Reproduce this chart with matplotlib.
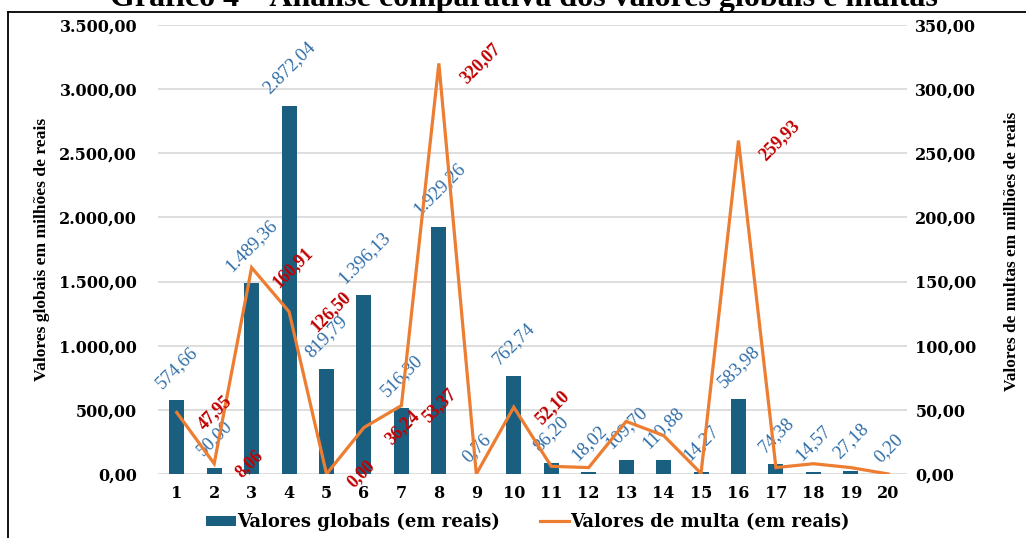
import matplotlib
matplotlib.use("Agg")
import matplotlib.pyplot as plt
from matplotlib.lines import Line2D
from matplotlib.patches import Patch

# --- data -----------------------------------------------------------------
categories = [str(i) for i in range(1, 21)]
valores_globais = [574.66, 50.00, 1489.36, 2872.04, 819.79, 1396.13, 516.30,
                   1929.26, 0.76, 762.74, 86.20, 18.02, 109.70, 110.88, 14.27,
                   583.98, 74.38, 14.57, 27.18, 0.20]
valores_multa = [47.95, 8.06, 160.91, 126.50, 0.00, 36.24, 53.37, 320.07, 0.0,
                 52.10, 6.0, 5.0, 41.0, 30.0, 0.5, 259.93, 5.0, 8.0, 5.0, 0.0]
# which multa points carry a value label
multa_rotulada = [True, True, True, True, True, True, True, True, False,
                  True, False, False, False, False, False, True, False, False,
                  False, False]
ticks_esq = [0, 500, 1000, 1500, 2000, 2500, 3000, 3500]
ticks_dir = [0, 50, 100, 150, 200, 250, 300, 350]

titulo = "Gráfico 4 – Análise comparativa dos valores globais e multas"
label_esq = "Valores globais em milhões de reais"
label_dir = "Valores de multas em milhões de reais"
leg_barras = "Valores globais (em reais)"
leg_linha = "Valores de multa (em reais)"


def br(v):
    """Format a number the Brazilian way: 3.500,00"""
    s = f"{v:,.2f}"
    return s.replace(",", "X").replace(".", ",").replace("X", ".")


# --- style ------------------------------------------------------------------
COR_BARRA = "#1B5F80"
COR_LINHA = "#ED7D31"
COR_ROT_AZUL = "#2E6DA8"
COR_ROT_VERM = "#C00000"
COR_GRADE = "#DEDEDE"
SERIF = ["Liberation Serif", "DejaVu Serif"]
WIDE = ["DejaVu Serif"]

W, H = 1026, 538
fig = plt.figure(figsize=(W / 100, H / 100), dpi=100)
fig.patch.set_facecolor("white")

ax = fig.add_axes([158 / W, 1 - 474 / H, (907 - 158) / W, (474 - 25) / H])
ax2 = ax.twinx()

x = list(range(len(categories)))

ax.bar(x, valores_globais, width=0.4, color=COR_BARRA, zorder=2)
ax2.plot(x, valores_multa, color=COR_LINHA, lw=2.3, zorder=3,
         solid_joinstyle="miter")

ax.set_xlim(-0.5, len(categories) - 0.5)
ax.set_ylim(ticks_esq[0], ticks_esq[-1])
ax2.set_ylim(ticks_dir[0], ticks_dir[-1])

ax.set_yticks(ticks_esq)
ax.set_yticklabels([br(t) for t in ticks_esq], family=WIDE, weight="bold",
                   fontsize=11.5)
ax2.set_yticks(ticks_dir)
ax2.set_yticklabels([br(t) for t in ticks_dir], family=WIDE, weight="bold",
                    fontsize=11.5)
ax.set_xticks(x)
ax.set_xticklabels(categories, family=WIDE, weight="bold", fontsize=11.5)

ax.tick_params(axis="y", length=0, pad=15)
ax2.tick_params(axis="y", length=0, pad=6)
ax.tick_params(axis="x", length=0, pad=8)

ax.grid(axis="y", color=COR_GRADE, lw=1.4, zorder=0)
ax.set_axisbelow(True)
for a in (ax, ax2):
    for s in a.spines.values():
        s.set_visible(False)

# value labels on the bars
for xi, v in zip(x, valores_globais):
    ax.annotate(br(v), (xi, v), xytext=(0, 6), textcoords="offset points",
                ha="center", va="bottom", rotation=45, color=COR_ROT_AZUL,
                family=SERIF, fontsize=13.5, zorder=4)

# value labels on the line
for xi, v, show in zip(x, valores_multa, multa_rotulada):
    if show:
        ax2.annotate(br(v), (xi, v), xytext=(13, 0),
                     textcoords="offset points", ha="left", va="center",
                     rotation=45, color=COR_ROT_VERM, family=SERIF,
                     weight="bold", fontsize=13, zorder=5)

# axis titles
fig.text(42 / W, 1 - 249 / H, label_esq, rotation=90, ha="center",
         va="center", family=SERIF, weight="bold", fontsize=12.6)
fig.text(1012 / W, 1 - 251 / H, label_dir, rotation=90, ha="center",
         va="center", family=SERIF, weight="bold", fontsize=12.4)

# chart title
fig.text(524 / W, 1 - 6 / H, titulo, ha="center", va="baseline",
         family=SERIF, weight="bold", fontsize=23)

# outer frame (left and top edges)
fig.add_artist(Line2D([8 / W, 8 / W], [0, 1 - 12 / H], color="black",
                      lw=1.3, transform=fig.transFigure))
fig.add_artist(Line2D([8 / W, 1], [1 - 12 / H, 1 - 12 / H], color="black",
                      lw=1.3, transform=fig.transFigure))

# legend
handles = [Patch(facecolor=COR_BARRA, edgecolor="none"),
           Line2D([0], [0], color=COR_LINHA, lw=2.3)]
fig.legend(handles, [leg_barras, leg_linha], loc="center",
           bbox_to_anchor=(528 / W, 1 - 522 / H), ncol=2, frameon=False,
           prop={"family": WIDE, "weight": "bold", "size": 13},
           handlelength=1.65, handleheight=0.45, handletextpad=0.05,
           columnspacing=2.2, borderpad=0)

fig.savefig("out.png", dpi=100, facecolor="white")
